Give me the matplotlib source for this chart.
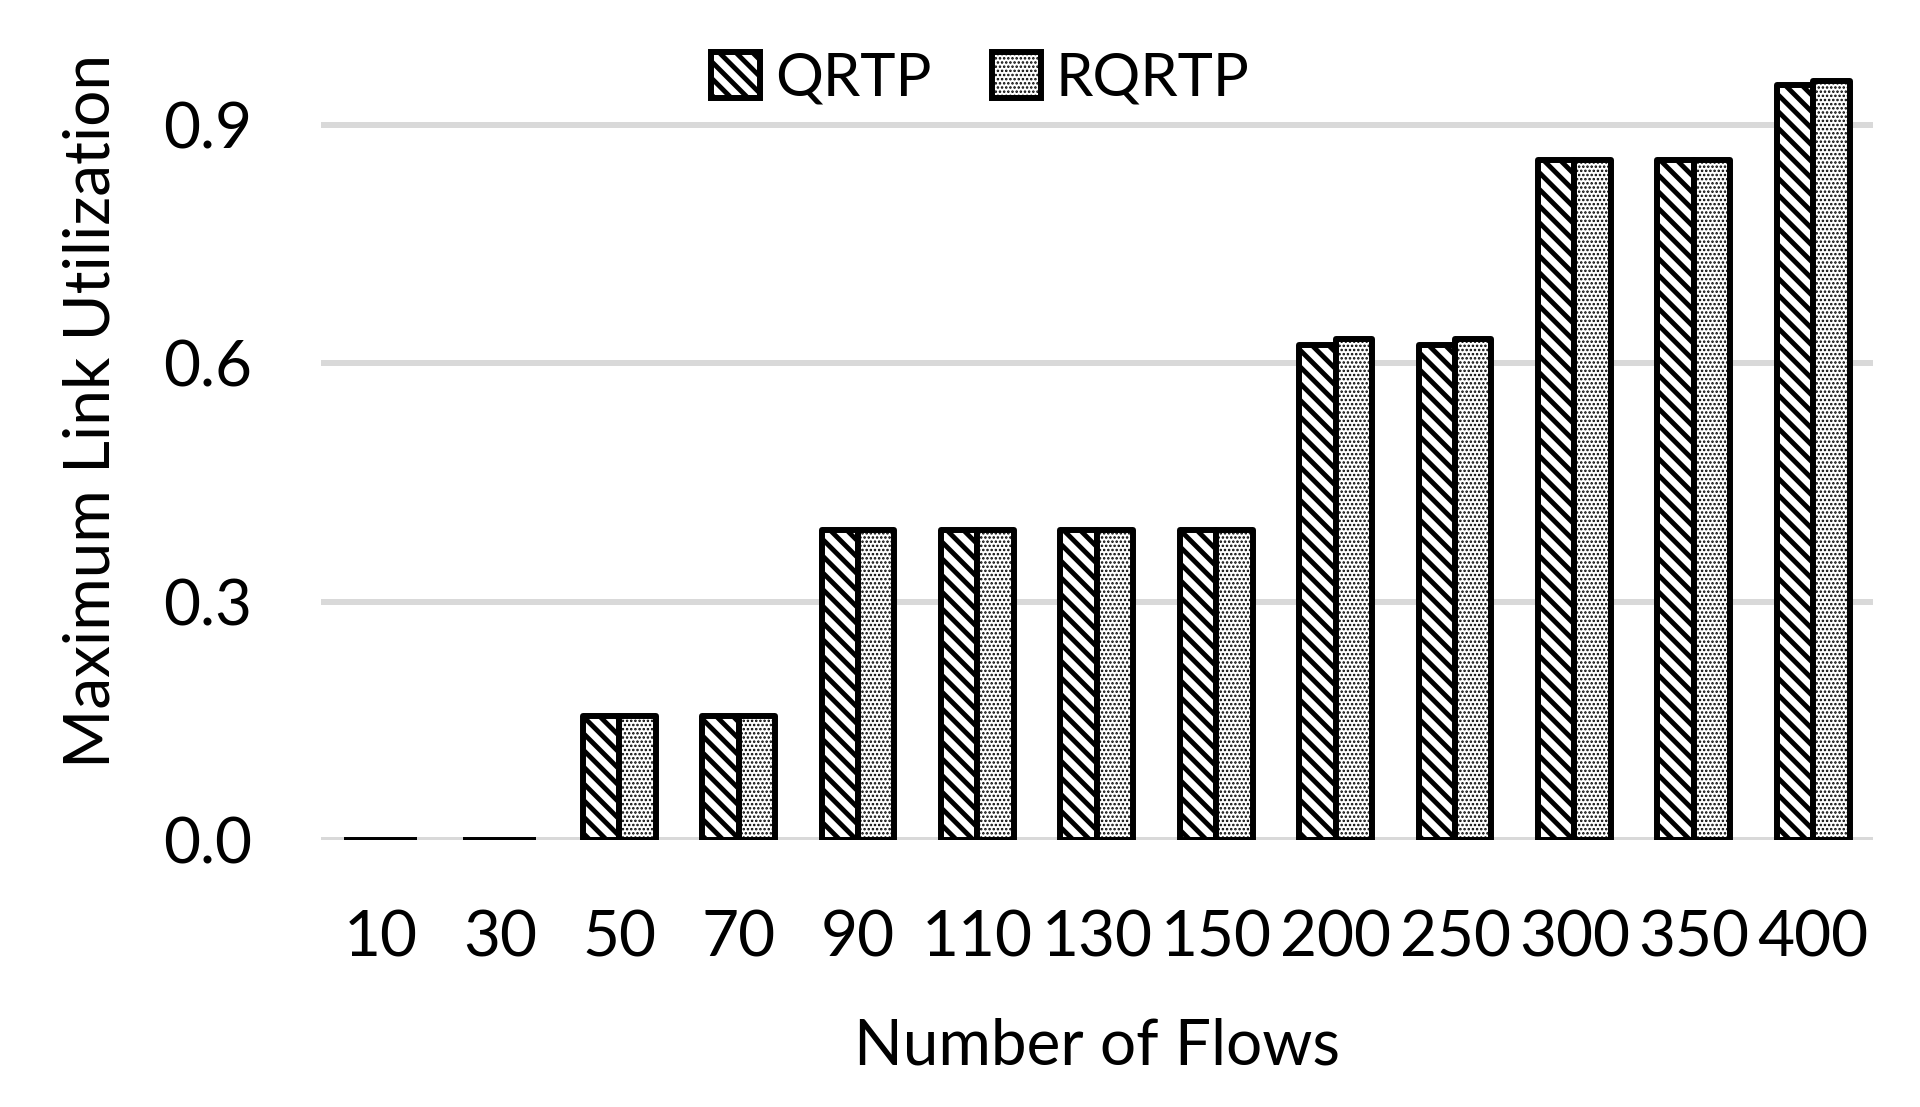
import matplotlib
matplotlib.use("Agg")
import matplotlib.pyplot as plt
import numpy as np
from matplotlib.patches import Patch

flows = ["10", "30", "50", "70", "90", "110", "130", "150", "200", "250", "300", "350", "400"]
qrtp = [0.0, 0.0, 0.156, 0.156, 0.39, 0.39, 0.39, 0.39, 0.623, 0.623, 0.856, 0.856, 0.95]
rqrtp = [0.0, 0.0, 0.156, 0.156, 0.39, 0.39, 0.39, 0.39, 0.630, 0.630, 0.856, 0.856, 0.955]
yticks = [0.0, 0.3, 0.6, 0.9]

plt.rcParams["font.family"] = ["Lato", "DejaVu Sans"]
plt.rcParams["hatch.linewidth"] = 3.5

fig = plt.figure(figsize=(19.2, 11.07), dpi=100)
ax = fig.add_axes([0.167, 0.2412, 0.8085, 0.7178])

x = np.arange(len(flows))
w = 0.305
b1 = ax.bar(x - w / 2, qrtp, w, color="white", edgecolor="black", linewidth=4.3,
            hatch="\\\\", joinstyle="round", zorder=3)
b2 = ax.bar(x + w / 2, rqrtp, w, color="white", edgecolor="black", linewidth=4.3,
            hatch="....", joinstyle="round", zorder=3)
for p in b2:
    p.set_hatch_linewidth(1.2)

ax.set_xlim(-0.5, len(flows) - 0.5)
ax.set_ylim(0, 1.0)
ax.set_yticks(yticks)
ax.set_yticklabels([f"{v:.1f}" for v in yticks])
ax.set_xticks(x)
ax.set_xticklabels(flows)
ax.tick_params(axis="both", length=0, labelsize=46)
ax.tick_params(axis="x", pad=50)
ax.tick_params(axis="y", pad=49)
ax.yaxis.grid(True, color="#d9d9d9", linewidth=4.3, zorder=0)
ax.set_axisbelow(True)
for s in ax.spines.values():
    s.set_visible(False)

ax.set_xlabel("Number of Flows", fontsize=46, labelpad=36)
ax.set_ylabel("Maximum Link Utilization", fontsize=46, labelpad=31, y=0.54)

h1 = Patch(facecolor="white", edgecolor="black", linewidth=4.3, hatch="\\\\")
h2 = Patch(facecolor="white", edgecolor="black", linewidth=4.3, hatch="....")
leg = ax.legend([h1, h2], ["QRTP", "RQRTP"], loc="upper center", bbox_to_anchor=(0.425, 1.060),
                ncol=2, frameon=False, fontsize=43, handlelength=0.82, handleheight=0.82,
                handletextpad=0.25, columnspacing=1.0)
leg.get_patches()[1].set_hatch_linewidth(1.2)

fig.savefig("out.png", dpi=100)
